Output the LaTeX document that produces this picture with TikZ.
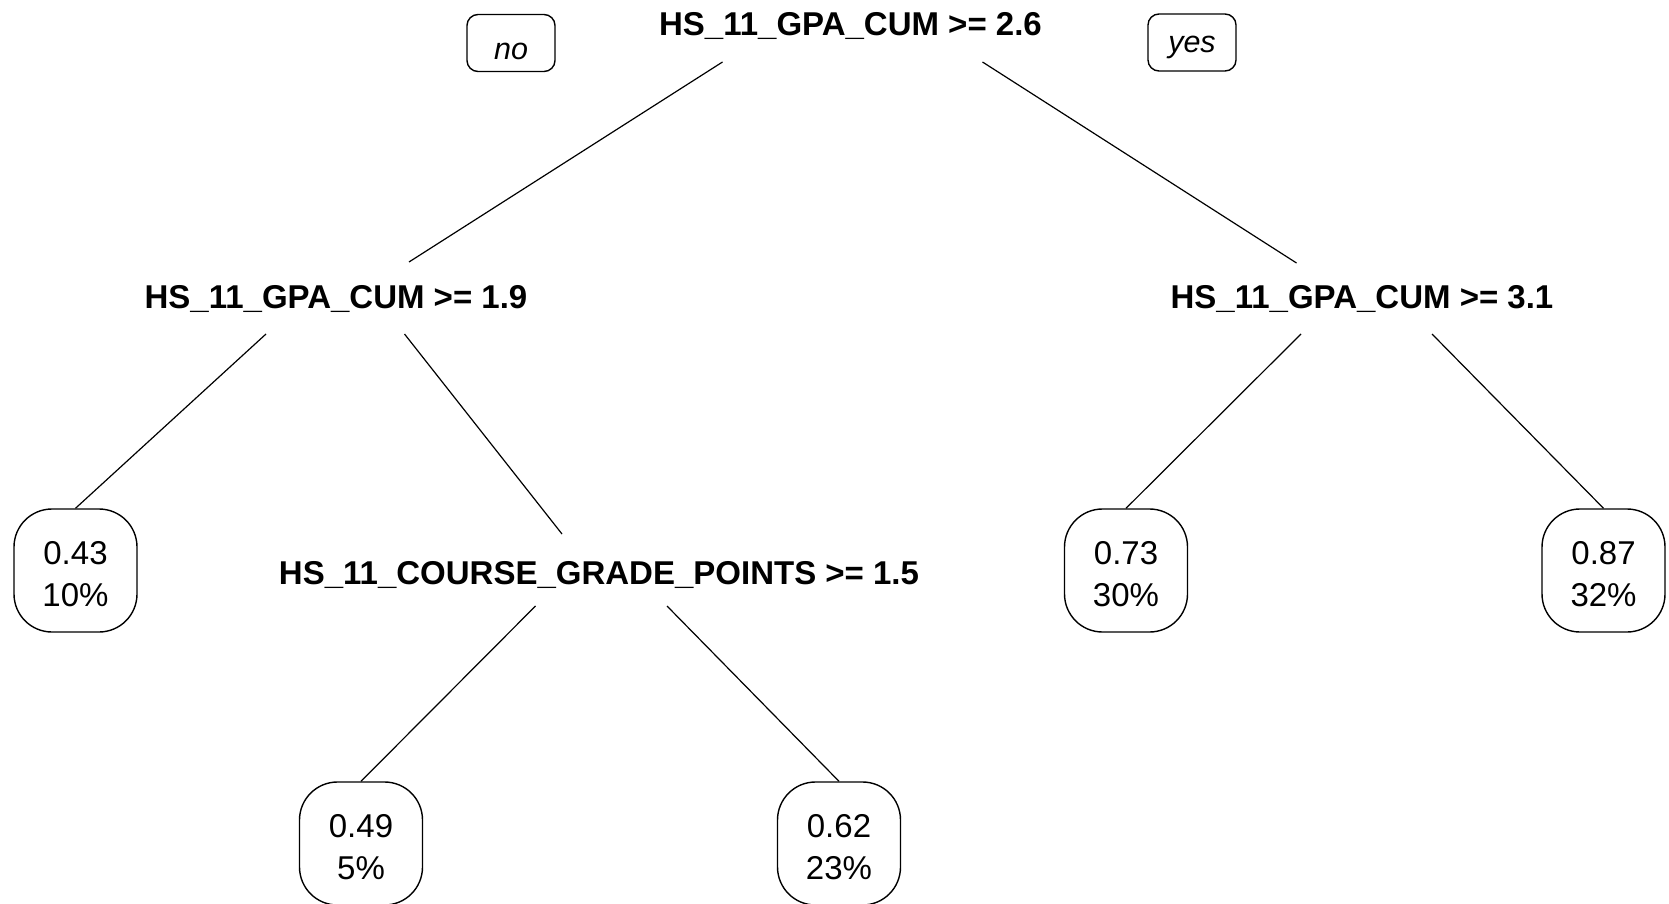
\documentclass[tikz,border=0pt]{standalone}
\usepackage{fontspec}
\setmainfont{Liberation Sans}
\newcommand{\leaftext}[2]{\rule{0pt}{30pt}#1\\#2}
\begin{document}
\begin{tikzpicture}[x=1pt,y=-1pt,
  split/.style={anchor=base,inner sep=0pt,font=\fontsize{33}{40}\selectfont\bfseries},
  leaf/.style={draw,line width=1.4pt,rounded corners=38pt,minimum width=123pt,minimum height=123pt,inner sep=0pt,align=center,font=\fontsize{33}{42}\selectfont},
  tag/.style={draw,line width=1.4pt,rounded corners=11pt,minimum width=88pt,minimum height=57pt,inner sep=0pt,text depth=0pt,font=\fontsize{30.5}{34}\selectfont\itshape},
  edge/.style={line width=1.2pt}]
\useasboundingbox (0,0) rectangle (1669,904);
\fill[white] (0,0) rectangle (1669,904);
% split nodes
\node[split] (root) at (850.5,36) {HS\_11\_GPA\_CUM >= 2.6};
\node[split] (l1) at (336,308) {HS\_11\_GPA\_CUM >= 1.9};
\node[split] (r1) at (1362,308) {HS\_11\_GPA\_CUM >= 3.1};
\node[split] (cg) at (599,584) {HS\_11\_COURSE\_GRADE\_POINTS >= 1.5};
% yes / no
\node[tag,text height=34pt] (no) at (511,43) {no};
\node[tag,text height=21pt] (yes) at (1192,42.5) {yes};
% leaves
\node[leaf] (a) at (75.5,570.5) {\leaftext{0.43}{10\%}};
\node[leaf] (b) at (361,843.5) {\leaftext{0.49}{5\%}};
\node[leaf] (c) at (839,843.5) {\leaftext{0.62}{23\%}};
\node[leaf] (d) at (1126,570.5) {\leaftext{0.73}{30\%}};
\node[leaf] (e) at (1603.5,570.5) {\leaftext{0.87}{32\%}};
% edges
\draw[edge] ([shift={(-128,26)}]root.base) -- ([shift={(73,-46)}]l1.base);
\draw[edge] ([shift={(132,26)}]root.base) -- ([shift={(-65.5,-45)}]r1.base);
\draw[edge] ([shift={(-70,26)}]l1.base) -- (a.north);
\draw[edge] ([shift={(68.5,26)}]l1.base) -- ([shift={(-37,-50)}]cg.base);
\draw[edge] ([shift={(-63.5,22)}]cg.base) -- (b.north);
\draw[edge] ([shift={(68,22)}]cg.base) -- (c.north);
\draw[edge] ([shift={(-61,26)}]r1.base) -- (d.north);
\draw[edge] ([shift={(70,26)}]r1.base) -- (e.north);
\end{tikzpicture}
\end{document}
